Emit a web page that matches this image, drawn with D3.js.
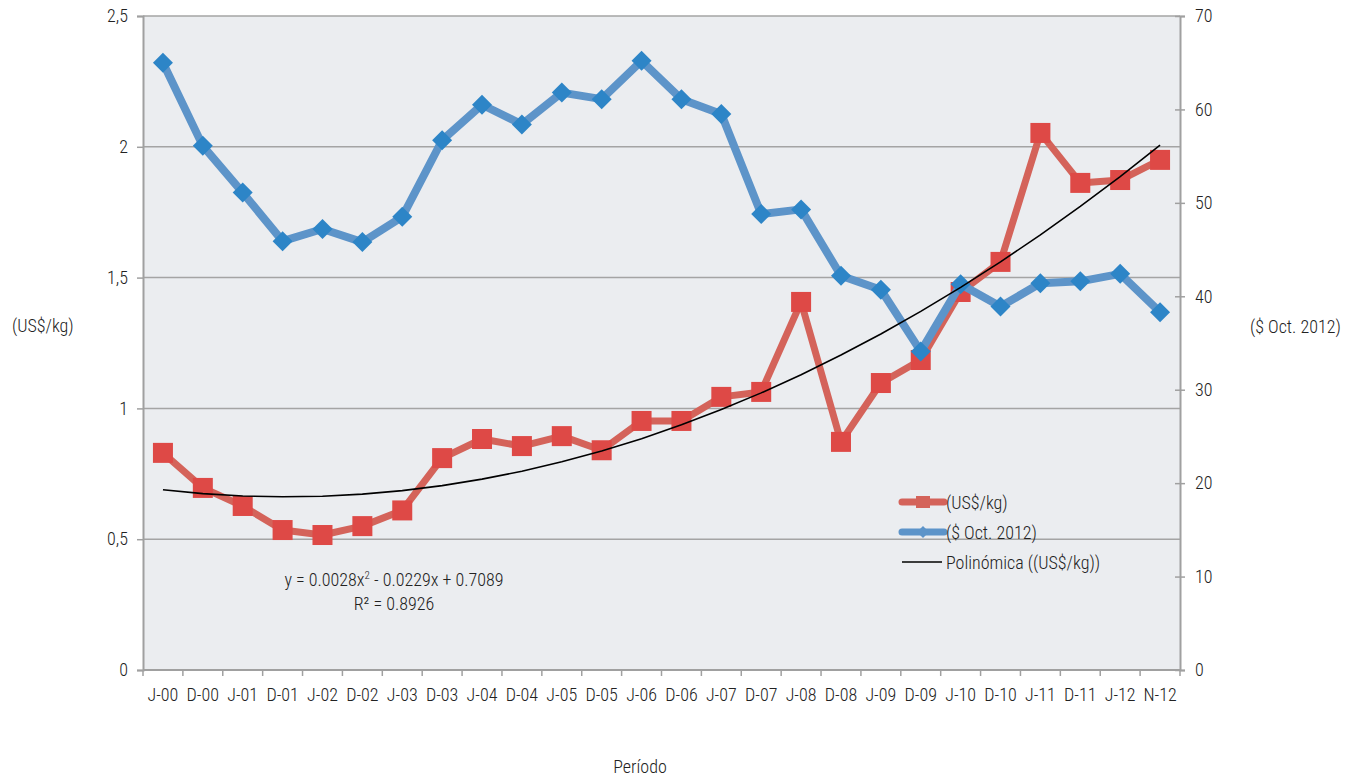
<!DOCTYPE html>
<html lang="es">
<head>
    <meta charset="UTF-8">
    <title>Precio</title>
    <script src="https://cdn.jsdelivr.net/npm/d3@7"></script>
    <style>
        body { margin: 0; background: #fff; }
        text { font-family: Roboto, "Liberation Sans", sans-serif; font-stretch: condensed; font-weight: 300; fill: #222; }
    </style>
</head>
<body>
    <svg width="1352" height="777" id="mainsvg"></svg>
    <script>
        // data
        const periods = ['J-00','D-00','J-01','D-01','J-02','D-02','J-03','D-03','J-04','D-04','J-05','D-05','J-06',
                         'D-06','J-07','D-07','J-08','D-08','J-09','D-09','J-10','D-10','J-11','D-11','J-12','N-12']
        const usdKg = [0.83,0.696,0.627,0.535,0.516,0.55,0.61,0.81,0.883,0.856,0.894,0.84,0.952,
                       0.952,1.044,1.063,1.407,0.872,1.097,1.185,1.445,1.56,2.053,1.862,1.873,1.95]
        const octPesos = [65.0,56.1,51.1,45.9,47.2,45.8,48.5,56.7,60.5,58.4,61.8,61.1,65.2,
                          61.1,59.5,48.8,49.3,42.2,40.7,34.1,41.3,38.9,41.4,41.6,42.4,38.3]
        // polynomial trend coefficients (c0, c1, c2) from the equation label
        const trendCoef = [0.7089, -0.0229, 0.0028]
        const leftTicks = [0, 0.5, 1, 1.5, 2, 2.5]
        const rightTicks = [0, 10, 20, 30, 40, 50, 60, 70]

        const svg = d3.select('#mainsvg')
        const margin = {top: 16, right: 172, bottom: 107, left: 143}
        const width = +svg.attr('width'), height = +svg.attr('height')
        const innerWidth = width - margin.left - margin.right
        const innerHeight = height - margin.top - margin.bottom
        const g = svg.append('g').attr('transform', `translate(${margin.left},${margin.top})`)

        const xScale = d3.scaleBand().domain(periods).range([0, innerWidth]).padding(0)
        const xc = d => xScale(d) + xScale.bandwidth() / 2
        const yLeft = d3.scaleLinear().domain([0, 2.5]).range([innerHeight, 0])
        const yRight = d3.scaleLinear().domain([0, 70]).range([innerHeight, 0])

        g.append('rect').attr('width', innerWidth).attr('height', innerHeight).attr('fill', '#ebedf0')

        // gridlines
        g.selectAll('.grid').data(leftTicks.filter(d => d > 0)).join('line')
            .attr('x1', 0).attr('x2', innerWidth)
            .attr('y1', d => yLeft(d)).attr('y2', d => yLeft(d))
            .attr('stroke', '#a4a4a4').attr('stroke-width', 1.5)

        const styleAxis = sel => {
            sel.select('.domain').attr('stroke', '#a0a0a0').attr('stroke-width', 2)
            sel.selectAll('.tick line').attr('stroke', '#a0a0a0').attr('stroke-width', 1.5)
            sel.selectAll('.tick text').attr('font-size', '18px').attr('fill', '#222')
                .attr('font-family', null)
        }

        const yAxisL = d3.axisLeft(yLeft).tickValues(leftTicks).tickSize(6).tickPadding(9)
            .tickFormat(d => String(d).replace('.', ','))
        const lAx = g.append('g').call(yAxisL).call(styleAxis)
        lAx.attr('font-family', null)

        const yAxisR = d3.axisRight(yRight).tickValues(rightTicks).tickSize(5).tickPadding(10)
        const rAx = g.append('g').attr('transform', `translate(${innerWidth},0)`).call(yAxisR).call(styleAxis)
        rAx.attr('font-family', null)
        rAx.selectAll('.tick line').attr('x1', -5)

        // x axis, ticks on category boundaries
        const xAxisGroup = g.append('g').attr('transform', `translate(0,${innerHeight})`)
        xAxisGroup.append('line').attr('x1', 0).attr('x2', innerWidth)
            .attr('stroke', '#a0a0a0').attr('stroke-width', 2)
        xAxisGroup.selectAll('.xt').data(periods).join('line')
            .attr('x1', d => xScale(d)).attr('x2', d => xScale(d))
            .attr('y1', 0).attr('y2', 6)
            .attr('stroke', '#a0a0a0').attr('stroke-width', 1.5)
        xAxisGroup.append('line').attr('x1', innerWidth).attr('x2', innerWidth).attr('y1', 0).attr('y2', 6)
            .attr('stroke', '#a0a0a0').attr('stroke-width', 1.5)
        xAxisGroup.selectAll('.xl').data(periods).join('text')
            .attr('x', d => xc(d)).attr('y', 31)
            .attr('text-anchor', 'middle').attr('font-size', '18px')
            .text(d => d)

        // red series
        const redData = periods.map((p, i) => ({p, v: usdKg[i]}))
        const blueData = periods.map((p, i) => ({p, v: octPesos[i]}))

        g.append('path').datum(redData)
            .attr('fill', 'none').attr('stroke', '#d4635a').attr('stroke-width', 7)
            .attr('stroke-linejoin', 'round')
            .attr('d', d3.line().x(d => xc(d.p)).y(d => yLeft(d.v)))
        g.selectAll('.sq').data(redData).join('rect')
            .attr('x', d => xc(d.p) - 10).attr('y', d => yLeft(d.v) - 10)
            .attr('width', 20).attr('height', 20).attr('fill', '#de4946')

        // blue series
        g.append('path').datum(blueData)
            .attr('fill', 'none').attr('stroke', '#5d94c9').attr('stroke-width', 8)
            .attr('stroke-linejoin', 'round')
            .attr('d', d3.line().x(d => xc(d.p)).y(d => yRight(d.v)))
        g.selectAll('.dm').data(blueData).join('path')
            .attr('transform', d => `translate(${xc(d.p)},${yRight(d.v)})`)
            .attr('d', 'M0,-10L10,0L0,10L-10,0Z').attr('fill', '#2d85c7')

        // trendline
        const trend = periods.map((p, i) => {
            const x = i + 1
            return {p, v: trendCoef[0] + trendCoef[1] * x + trendCoef[2] * x * x}
        })
        g.append('path').datum(trend)
            .attr('fill', 'none').attr('stroke', '#000').attr('stroke-width', 1.6)
            .attr('d', d3.line().x(d => xc(d.p)).y(d => yLeft(d.v)))

        // equation label
        const eq = g.append('text').attr('x', 394 - margin.left).attr('y', 586 - margin.top)
            .attr('text-anchor', 'middle').attr('font-size', '18px')
        eq.append('tspan').text('y = 0.0028x')
        eq.append('tspan').text('2').attr('font-size', '11px').attr('dy', -7)
        eq.append('tspan').text(' - 0.0229x + 0.7089').attr('dy', 7)
        g.append('text').attr('x', 394 - margin.left).attr('y', 610 - margin.top)
            .attr('text-anchor', 'middle').attr('font-size', '18px').text('R² = 0.8926')

        // legend
        const lg = g.append('g').attr('transform', `translate(${900 - margin.left},0)`)
        const legendY = [502, 532, 562].map(v => v - margin.top)
        lg.append('line').attr('x1', 2).attr('x2', 44).attr('y1', legendY[0]).attr('y2', legendY[0])
            .attr('stroke', '#d4635a').attr('stroke-width', 7).attr('stroke-linecap', 'round')
        lg.append('rect').attr('x', 16).attr('y', legendY[0] - 6).attr('width', 14).attr('height', 12).attr('fill', '#d4635a')
        lg.append('line').attr('x1', 2).attr('x2', 44).attr('y1', legendY[1]).attr('y2', legendY[1])
            .attr('stroke', '#5d94c9').attr('stroke-width', 7).attr('stroke-linecap', 'round')
        lg.append('path').attr('transform', `translate(23,${legendY[1]})`)
            .attr('d', 'M0,-6L6,0L0,6L-6,0Z').attr('fill', '#5d94c9')
        lg.append('line').attr('x1', 2).attr('x2', 42).attr('y1', legendY[2]).attr('y2', legendY[2])
            .attr('stroke', '#000').attr('stroke-width', 1.6)
        const legendText = ['(US$/kg)', '($ Oct. 2012)', 'Polinómica ((US$/kg))']
        lg.selectAll('.lt').data(legendText).join('text')
            .attr('x', 46).attr('y', (d, i) => legendY[i] + 7)
            .attr('font-size', '18px').text(d => d)

        // axis titles
        svg.append('text').attr('x', 12).attr('y', 332).attr('font-size', '18px').text('(US$/kg)')
        svg.append('text').attr('x', 1250).attr('y', 333).attr('font-size', '18px').text('($ Oct. 2012)')
        svg.append('text').attr('x', 640).attr('y', 773).attr('text-anchor', 'middle')
            .attr('font-size', '18px').text('Período')
    </script>
</body>
</html>
